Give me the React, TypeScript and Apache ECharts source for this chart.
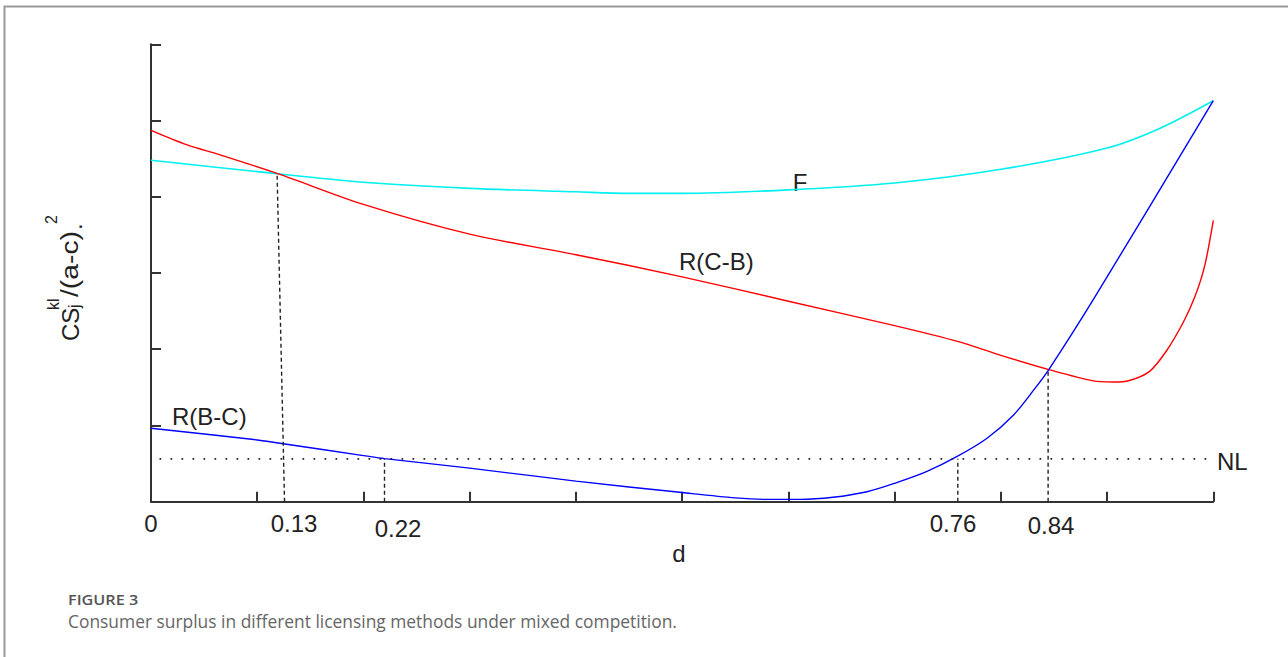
import React, { useEffect, useRef } from "react";
import * as echarts from "echarts";

// ---- data ----
const fX = [0, 0.1, 0.2, 0.3, 0.4, 0.45, 0.5, 0.6, 0.7, 0.8, 0.9, 0.95, 1.0];
const fY = [4.48, 4.33, 4.19, 4.11, 4.065, 4.045, 4.045, 4.09, 4.18, 4.36, 4.64, 4.9, 5.26];

const rcbX = [0, 0.034, 0.065, 0.12, 0.2, 0.3, 0.4, 0.5, 0.6, 0.7, 0.76, 0.8, 0.846, 0.887, 0.905, 0.921, 0.94, 0.956, 0.972, 0.983, 0.992, 1.0];
const rcbY = [4.87, 4.68, 4.55, 4.3, 3.9, 3.51, 3.24, 2.95, 2.63, 2.31, 2.1, 1.92, 1.73, 1.585, 1.57, 1.59, 1.71, 1.98, 2.36, 2.7, 3.1, 3.69];

const rbcX = [0, 0.1, 0.126, 0.2, 0.22, 0.3, 0.4, 0.5, 0.55, 0.58, 0.611, 0.642, 0.674, 0.7, 0.73, 0.7585, 0.787, 0.812, 0.831, 0.845, 0.887, 1.0];
const rbcY = [0.963, 0.81, 0.757, 0.605, 0.565, 0.44, 0.27, 0.12, 0.05, 0.03, 0.03, 0.058, 0.131, 0.241, 0.394, 0.59, 0.832, 1.138, 1.466, 1.73, 2.65, 5.26];

const nlX = [0.008, 1.0];
const nlY = [0.563, 0.563];

// dashed drop lines: [x bottom, x top, y top]
const dropLines = [
  [0.1257, 0.1187, 4.3],
  [0.2198, 0.2198, 0.563],
  [0.7595, 0.7595, 0.563],
  [0.8445, 0.8445, 1.73],
];

const tickLabels = ["0", "0.13", "0.22", "0.76", "0.84"];

const zip = (xs: number[], ys: number[]) => xs.map((x, i) => [x, ys[i]]);

export default function App() {
  const ref = useRef<HTMLDivElement>(null);
  useEffect(() => {
    if (!ref.current) return;
    const chart = echarts.init(ref.current, undefined, { renderer: "svg" });
    const txt = "#222";
    const font = "'Liberation Sans', Arial, sans-serif";
    const labelPos = [
      [151, 523],
      [294, 523],
      [398, 528],
      [953, 523],
      [1051, 525],
    ];
    const sup = (t: string, x: number, y: number, size: number, sx = 1) => ({
      type: "text",
      x,
      y,
      scaleX: sx,
      style: { text: t, font: `${size}px ${font}`, fill: txt, textVerticalAlign: "middle" },
    });
    chart.setOption({
      animation: false,
      backgroundColor: "#fff",
      grid: { left: 151, right: 74.7, top: 44.3, bottom: 155.3 },
      xAxis: {
        type: "value",
        min: 0,
        max: 1,
        interval: 0.1,
        axisLine: { lineStyle: { color: "#333", width: 2 } },
        axisTick: { inside: true, length: 10, lineStyle: { color: "#333", width: 2 } },
        axisLabel: { show: false },
        splitLine: { show: false },
      },
      yAxis: {
        type: "value",
        min: 0,
        max: 6,
        interval: 1,
        axisLine: { show: true, lineStyle: { color: "#333", width: 2 } },
        axisTick: { show: true, inside: true, length: 10, lineStyle: { color: "#333", width: 2 } },
        axisLabel: { show: false },
        splitLine: { show: false },
      },
      series: [
        {
          type: "line",
          data: zip(fX, fY),
          smooth: 0.3,
          symbol: "none",
          lineStyle: { color: "#00f0f0", width: 1.6 },
        },
        {
          type: "line",
          data: zip(rcbX, rcbY),
          smooth: 0.3,
          symbol: "none",
          lineStyle: { color: "#ff0000", width: 1.4 },
        },
        {
          type: "line",
          data: zip(rbcX, rbcY),
          smooth: 0.3,
          symbol: "none",
          lineStyle: { color: "#0000ff", width: 1.4 },
        },
        {
          type: "line",
          data: zip(nlX, nlY),
          symbol: "none",
          lineStyle: { color: "#222", width: 1.7, type: [1.7, 9.3] },
        },
        ...dropLines.map((d) => ({
          type: "line",
          data: [
            [d[0], 0],
            [d[1], d[2]],
          ],
          symbol: "none",
          z: 3,
          lineStyle: { color: "#222", width: 1.4, type: [4, 3] },
        })),
      ],
      graphic: [
        {
          type: "rect",
          shape: { x: 4.5, y: 6.5, width: 1400, height: 800 },
          style: { fill: "none", stroke: "#999", lineWidth: 2 },
          silent: true,
        },
        ...tickLabels.map((t, i) => ({
          type: "text",
          x: labelPos[i][0],
          y: labelPos[i][1],
          style: { text: t, font: `24px ${font}`, fill: txt, textAlign: "center", textVerticalAlign: "middle" },
        })),
        {
          type: "text",
          x: 679,
          y: 553,
          style: { text: "d", font: `24px ${font}`, fill: txt, textAlign: "center", textVerticalAlign: "middle" },
        },
        {
          type: "text",
          x: 800,
          y: 182,
          style: { text: "F", font: `24px ${font}`, fill: txt, textAlign: "center", textVerticalAlign: "middle" },
        },
        {
          type: "text",
          x: 679,
          y: 261,
          style: { text: "R(C-B)", font: `24px ${font}`, fill: txt, textVerticalAlign: "middle" },
        },
        {
          type: "text",
          x: 172,
          y: 416,
          style: { text: "R(B-C)", font: `24px ${font}`, fill: txt, textVerticalAlign: "middle" },
        },
        {
          type: "text",
          x: 1217,
          y: 461,
          style: { text: "NL", font: `24px ${font}`, fill: txt, textVerticalAlign: "middle" },
        },
        {
          type: "group",
          x: 70,
          y: 341,
          rotation: Math.PI / 2,
          children: [
            sup("CS", 0, 0, 24),
            sup("kl", 31, -17, 16),
            sup("j", 33, 4, 16),
            sup("/(a-c)", 44, 0, 24, 1.18),
            sup(".", 111, 3, 24),
            sup("2", 117, -19, 16),
          ],
        },
        {
          type: "text",
          x: 68,
          y: 599,
          scaleX: 1.08,
          style: { text: "FIGURE 3", font: `600 15px 'Open Sans', Lato, sans-serif`, fill: "#555", textVerticalAlign: "middle" },
        },
        {
          type: "text",
          x: 68,
          y: 621,
          style: {
            text: "Consumer surplus in different licensing methods under mixed competition.",
            font: `17.4px 'Open Sans', Lato, sans-serif`,
            fill: "#666",
            textVerticalAlign: "middle",
          },
        },
      ],
    });
    return () => chart.dispose();
  }, []);
  return (
    <div
      ref={ref}
      style={{ position: "fixed", left: 0, top: 0, width: 1288, height: 657, background: "#fff" }}
    />
  );
}
